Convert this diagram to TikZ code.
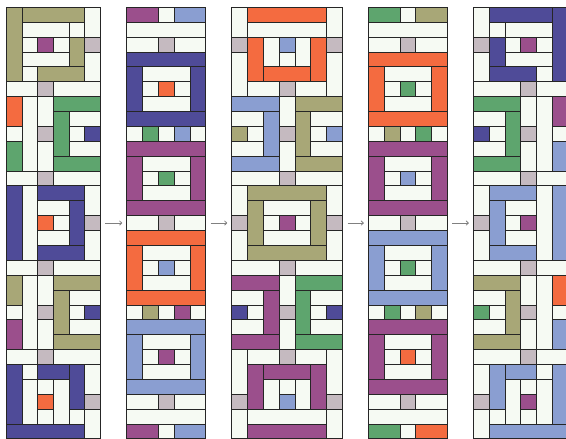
\documentclass[tikz,border=0pt]{standalone}
\usetikzlibrary{arrows.meta}
\definecolor{olv}{HTML}{A8A777}
\definecolor{pur}{HTML}{9B4F8C}
\definecolor{org}{HTML}{F46B40}
\definecolor{grn}{HTML}{5EA56E}
\definecolor{ind}{HTML}{4F4B98}
\definecolor{lbl}{HTML}{8A9ED1}
\definecolor{gry}{HTML}{C5BAC0}
\definecolor{wht}{HTML}{F6FAF3}
% one filled cell per entry: x1/y1/x2/y2/colour
\newcommand\rects[1]{\foreach \xa/\ya/\xb/\yb/\fc in {#1} \draw[cell,fill=\fc] (\xa,\ya) rectangle (\xb,\yb);}
% square frame of 5x5 cells with a small centre
\newcommand\frameblk[3]{\begin{scope}[shift={(0,#1)}]
\rects{0/0/5/1/#2,0/1/1/4/#2,1/1/4/2/wht,4/1/5/4/#2,1/2/2/3/wht,2/2/3/3/#3,3/2/4/3/wht,1/3/4/4/wht,0/4/5/5/#2}
\end{scope}}
\newcommand\seprow[2]{\rects{0/#1/2/#1+1/wht,2/#1/3/#1+1/gry,3/#1/#2/#1+1/wht}}

\begin{document}
\begin{tikzpicture}[x=1pt,y=-1pt,
  cell/.style={draw=black!85,line width=0.8pt},
  arr/.style={-{To[length=3pt,width=5pt]},draw=black!50,line width=0.8pt,shorten <=5pt,shorten >=4.5pt}]
\useasboundingbox (0,0) rectangle (566,439);
\clip (0,0) rectangle (566,439);

% strip 1
\begin{scope}[shift={(6.7pt,-7.3pt)},x=15.55pt,y=-14.88pt]
\rects{0/0/1/5/olv,1/0/5/1/olv,5/0/6/2/wht,1/1/4/2/wht,4/1/5/2/wht,1/2/2/3/wht,2/2/3/3/pur,3/2/4/3/wht,4/2/5/4/olv,5/2/6/3/gry,1/3/4/4/wht,5/3/6/5/wht,1/4/2/5/wht,2/4/5/5/olv}
\rects{0/6/1/8/org,1/6/2/11/wht,2/6/3/8/wht,3/6/6/7/grn,3/7/4/10/grn,4/7/6/8/wht,0/8/1/9/wht,2/8/3/9/gry,4/8/5/9/wht,5/8/6/9/ind,0/9/1/11/grn,2/9/3/11/wht,4/9/6/10/wht,3/10/6/11/grn}
\rects{0/12/1/17/ind,1/12/2/17/wht,2/12/5/13/ind,5/12/6/14/wht,2/13/4/14/wht,4/13/5/16/ind,2/14/3/15/org,3/14/4/15/wht,5/14/6/15/gry,2/15/4/16/wht,5/15/6/17/wht,2/16/5/17/ind}
\rects{0/18/1/20/olv,1/18/2/23/wht,2/18/3/20/wht,3/18/6/19/olv,3/19/4/22/olv,4/19/6/20/wht,0/20/1/21/wht,2/20/3/21/gry,4/20/5/21/wht,5/20/6/21/ind,0/21/1/23/pur,2/21/3/23/wht,4/21/6/22/wht,3/22/6/23/olv}
\rects{0/24/1/28/ind,1/24/2/25/wht,2/24/4/25/ind,4/24/5/27/ind,5/24/6/26/wht,1/25/2/28/wht,2/25/3/26/wht,3/25/4/28/wht,2/26/3/27/org,5/26/6/27/gry,2/27/3/28/wht,4/27/5/28/wht,5/27/6/29/wht,0/28/5/29/ind}
\seprow{5}{6} \seprow{11}{6} \seprow{17}{6} \seprow{23}{6}
\coordinate (r1) at (6,14.5);
\end{scope}

% strip 2
\begin{scope}[shift={(126.7pt,-7.3pt)},x=15.8pt,y=-14.88pt]
\rects{0/0/2/1/pur,2/0/3/1/wht,3/0/5/1/lbl,0/1/5/2/wht}
\seprow{2}{5}
\frameblk{3}{ind}{org}
\rects{0/8/1/9/wht,1/8/2/9/grn,2/8/3/9/wht,3/8/4/9/lbl,4/8/5/9/wht}
\frameblk{9}{pur}{grn}
\seprow{14}{5}
\frameblk{15}{org}{lbl}
\rects{0/20/1/21/wht,1/20/2/21/olv,2/20/3/21/wht,3/20/4/21/pur,4/20/5/21/wht}
\frameblk{21}{lbl}{pur}
\seprow{26}{5}
\rects{0/27/5/28/wht,0/28/2/29/pur,2/28/3/29/wht,3/28/5/29/lbl}
\coordinate (l2) at (0,14.5);
\coordinate (r2) at (5,14.5);
\end{scope}

% strip 3
\begin{scope}[shift={(231.7pt,-7.3pt)},x=15.83pt,y=-14.88pt]
\rects{0/0/1/2/wht,1/0/6/1/org,6/0/7/2/wht,1/1/6/2/wht,0/2/1/3/gry,1/2/2/5/org,2/2/3/4/wht,3/2/4/3/lbl,4/2/5/4/wht,5/2/6/5/org,6/2/7/3/gry,0/3/1/6/wht,3/3/4/4/wht,6/3/7/6/wht,2/4/5/5/org,1/5/3/6/wht,3/5/4/6/gry,4/5/6/6/wht}
\rects{0/6/3/7/lbl,3/6/4/8/wht,4/6/7/7/olv,0/7/2/8/wht,2/7/3/10/lbl,4/7/5/10/olv,5/7/7/8/wht,0/8/1/9/olv,1/8/2/9/wht,3/8/4/9/gry,5/8/6/9/wht,6/8/7/9/lbl,0/9/2/10/wht,3/9/4/11/wht,5/9/7/10/wht,0/10/3/11/lbl,4/10/7/11/olv}
\rects{0/11/3/12/wht,3/11/4/12/gry,4/11/7/12/wht}
\rects{0/12/1/14/wht,1/12/6/13/olv,6/12/7/14/wht,1/13/2/16/olv,2/13/5/14/wht,5/13/6/16/olv,0/14/1/15/gry,2/14/3/15/wht,3/14/4/15/pur,4/14/5/15/wht,6/14/7/15/gry,0/15/1/17/wht,2/15/5/16/wht,6/15/7/17/wht,1/16/6/17/olv}
\rects{0/17/3/18/wht,3/17/4/18/gry,4/17/7/18/wht}
\rects{0/18/3/19/pur,3/18/4/20/wht,4/18/7/19/grn,0/19/2/20/wht,2/19/3/22/pur,4/19/5/22/grn,5/19/7/20/wht,0/20/1/21/ind,1/20/2/21/wht,3/20/4/21/gry,5/20/6/21/wht,6/20/7/21/ind,0/21/2/22/wht,3/21/4/23/wht,5/21/7/22/wht,0/22/3/23/pur,4/22/7/23/grn}
\rects{0/23/1/26/wht,1/23/3/24/wht,3/23/4/24/gry,4/23/6/24/wht,6/23/7/26/wht}
\rects{1/24/2/27/pur,2/24/5/25/pur,5/24/6/27/pur,2/25/3/27/wht,3/25/4/26/wht,4/25/5/27/wht,0/26/1/27/gry,3/26/4/27/lbl,6/26/7/27/gry,0/27/1/29/wht,1/27/6/28/wht,6/27/7/29/wht,1/28/6/29/pur}
\coordinate (l3) at (0,14.5);
\coordinate (r3) at (7,14.5);
\end{scope}

% strip 4
\begin{scope}[shift={(368.3pt,-7.3pt)},x=15.8pt,y=-14.88pt]
\rects{0/0/2/1/grn,2/0/3/1/wht,3/0/5/1/olv,0/1/5/2/wht}
\seprow{2}{5}
\frameblk{3}{org}{grn}
\rects{0/8/1/9/wht,1/8/2/9/olv,2/8/3/9/wht,3/8/4/9/grn,4/8/5/9/wht}
\frameblk{9}{pur}{lbl}
\seprow{14}{5}
\frameblk{15}{lbl}{grn}
\rects{0/20/1/21/wht,1/20/2/21/grn,2/20/3/21/wht,3/20/4/21/olv,4/20/5/21/wht}
\frameblk{21}{pur}{org}
\seprow{26}{5}
\rects{0/27/5/28/wht,0/28/2/29/grn,2/28/3/29/wht,3/28/5/29/org}
\coordinate (l4) at (0,14.5);
\coordinate (r4) at (5,14.5);
\end{scope}

% strip 5
\begin{scope}[shift={(473.3pt,-7.3pt)},x=15.8pt,y=-14.88pt]
\rects{0/0/1/2/wht,1/0/5/1/ind,5/0/6/5/ind,1/1/2/2/wht,2/1/5/2/wht,0/2/1/3/gry,1/2/2/4/ind,2/2/3/3/wht,3/2/4/3/pur,4/2/5/3/wht,0/3/1/5/wht,2/3/5/4/wht,1/4/4/5/ind,4/4/5/5/wht}
\rects{0/6/3/7/grn,3/6/4/8/wht,4/6/5/11/wht,5/6/6/8/pur,0/7/2/8/wht,2/7/3/10/grn,0/8/1/9/ind,1/8/2/9/wht,3/8/4/9/gry,5/8/6/9/wht,0/9/2/10/wht,3/9/4/11/wht,5/9/6/11/lbl,0/10/3/11/grn}
\rects{5/12/6/17/lbl,4/12/5/17/wht,1/12/4/13/lbl,0/12/1/14/wht,2/13/4/14/wht,1/13/2/16/lbl,3/14/4/15/pur,2/14/3/15/wht,0/14/1/15/gry,2/15/4/16/wht,0/15/1/17/wht,1/16/4/17/lbl}
\rects{5/18/6/20/org,4/18/5/23/wht,3/18/4/20/wht,0/18/3/19/olv,2/19/3/22/olv,0/19/2/20/wht,5/20/6/21/wht,3/20/4/21/gry,1/20/2/21/wht,0/20/1/21/grn,5/21/6/23/lbl,3/21/4/23/wht,0/21/2/22/wht,0/22/3/23/olv}
\rects{5/24/6/28/lbl,4/24/5/25/wht,2/24/4/25/lbl,1/24/2/27/lbl,0/24/1/26/wht,4/25/5/28/wht,3/25/4/26/wht,2/25/3/28/wht,3/26/4/27/pur,0/26/1/27/gry,3/27/4/28/wht,1/27/2/28/wht,0/27/1/29/wht,1/28/6/29/lbl}
\rects{0/5/3/6/wht,3/5/4/6/gry,4/5/6/6/wht,0/11/3/12/wht,3/11/4/12/gry,4/11/6/12/wht,0/17/3/18/wht,3/17/4/18/gry,4/17/6/18/wht,0/23/3/24/wht,3/23/4/24/gry,4/23/6/24/wht}
\coordinate (l5) at (0,14.5);
\end{scope}

\draw[arr] (r1) -- (l2);
\draw[arr] (r2) -- (l3);
\draw[arr] (r3) -- (l4);
\draw[arr] (r4) -- (l5);
\end{tikzpicture}
\end{document}
